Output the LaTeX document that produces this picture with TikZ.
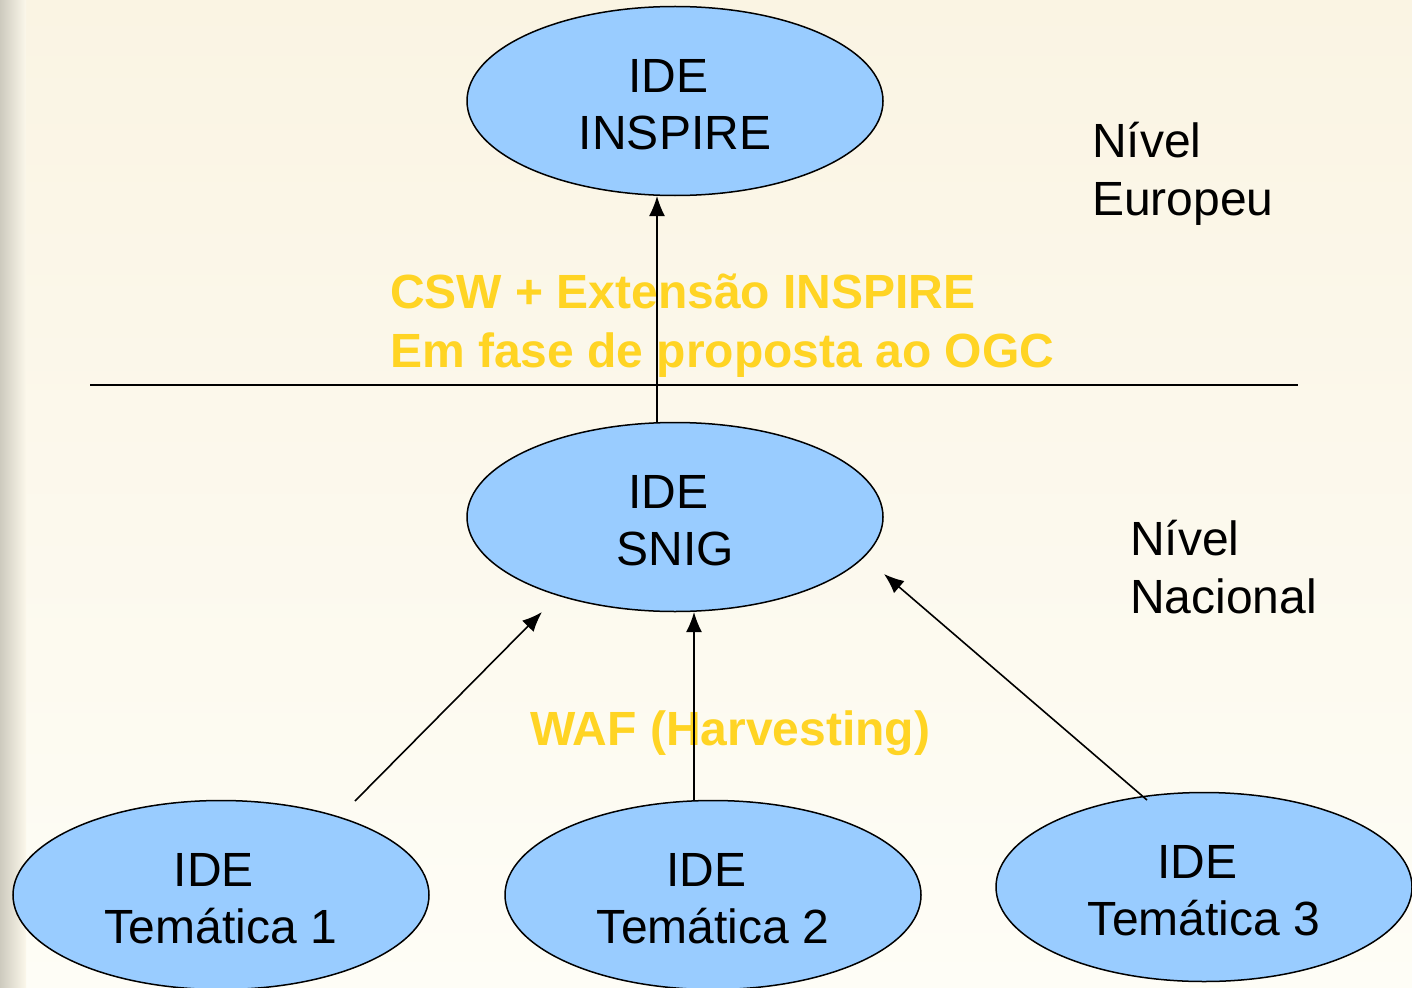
\documentclass[tikz,border=0pt]{standalone}
\usepackage{fontspec}
\setmainfont{Liberation Sans}
\usetikzlibrary{shapes.geometric,arrows.meta}
\definecolor{bgtop}{RGB}{250,244,227}
\definecolor{bgbot}{RGB}{254,253,246}
\definecolor{edge}{RGB}{205,202,190}
\definecolor{ellfill}{RGB}{153,204,255}
\definecolor{ylw}{RGB}{255,212,36}
\newcommand{\ide}{IDE\hspace*{14pt}}
\tikzset{
  ide/.style={ellipse, draw=black, line width=1.5pt, fill=ellfill, minimum width=416pt, minimum height=189pt, inner sep=0pt},
  idetext/.style={inner sep=0pt, align=center, yshift=-4pt, font=\fontsize{48}{57}\selectfont},
  level/.style={anchor=base west, align=left, inner sep=0pt, font=\fontsize{48}{58}\selectfont},
  note/.style={anchor=base west, align=left, inner sep=0pt, text=ylw, font=\bfseries\fontsize{48}{59}\selectfont},
  arr/.style={line width=1.6pt, -{Latex[length=20pt,width=16pt]}}
}
\begin{document}
\begin{tikzpicture}[x=1pt,y=-1pt]
\useasboundingbox (0,0) rectangle (1412,987);
\shade[top color=bgtop, bottom color=bgbot] (0,0) rectangle (1412,987);
\shade[left color=edge, right color=bgtop!60!bgbot] (0,0) rectangle (26,987);
\draw[line width=1.5pt] (90,385) -- (1298,385);
\node[ide] (inspire) at (675,101) {};
\node[ide] (snig) at (675,517) {};
\node[ide] (t1) at (221,895) {};
\node[ide] (t2) at (713,895) {};
\node[ide] (t3) at (1204,887) {};
\node[idetext] (inspiretxt) at (inspire.center) {\ide\\INSPIRE};
\node[idetext] (snigtxt) at (snig.center) {\ide\\SNIG};
\node[idetext] (t1txt) at (t1.center) {\ide\\Temática 1};
\node[idetext] (t2txt) at (t2.center) {\ide\\Temática 2};
\node[idetext] (t3txt) at (t3.center) {\ide\\Temática 3};
\node[level] (eu) at (1092,215) {Nível\\Europeu};
\node[level] (nac) at (1130,613) {Nível\\Nacional};
\node[note] (csw) at (390,367) {CSW + Extensão INSPIRE\\Em fase de proposta ao OGC};
\node[note] (waf) at (530,745) {WAF (Harvesting)};
\coordinate (s0) at (657,423);
\coordinate (e0) at (657,196);
\coordinate (s1) at (355,801);
\coordinate (e1) at (542,612);
\coordinate (s2) at (694,801);
\coordinate (e2) at (694,612);
\coordinate (s3) at (1147,800);
\coordinate (e3) at (884,574);
\draw[arr] (s0) -- (e0);
\draw[arr] (s1) -- (e1);
\draw[arr] (s2) -- (e2);
\draw[arr] (s3) -- (e3);
\end{tikzpicture}
\end{document}
